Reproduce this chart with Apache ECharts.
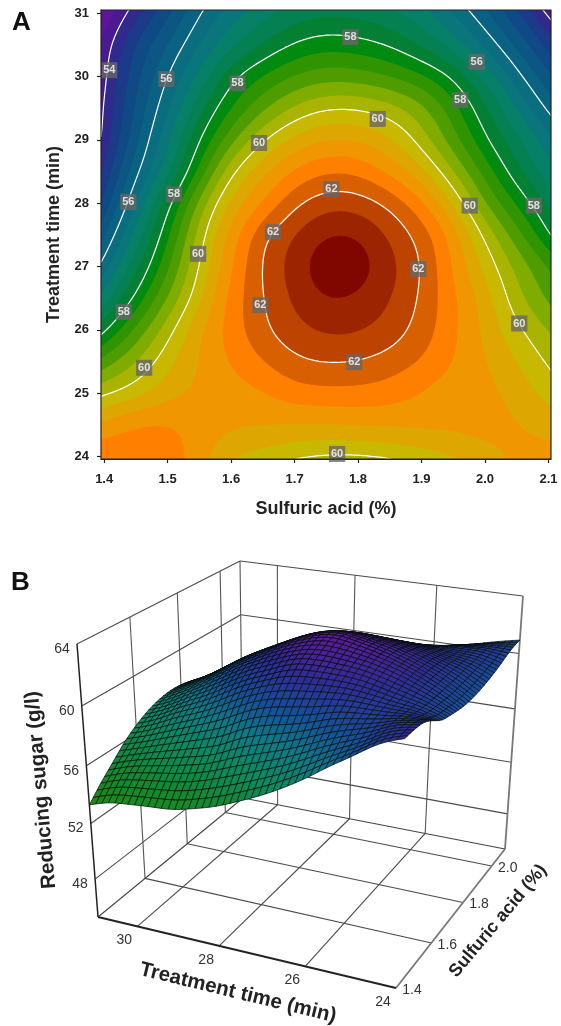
<!DOCTYPE html>
<html><head><meta charset="utf-8">
<style>html,body{margin:0;padding:0;background:#fff}#c{width:561px;height:1026px}</style>
<script src="https://cdn.jsdelivr.net/npm/echarts@6/dist/echarts.min.js"></script>
</head><body><div id="c"></div>
<script>
// ---- data ----
const acidValues = [1.40,1.45,1.50,1.55,1.60,1.65,1.70,1.75,1.80,1.85,1.90,1.95,2.00,2.05,2.10];
const timeValues = [31,30.5,30,29.5,29,28.5,28,27.5,27,26.5,26,25.5,25,24.5,24];
const sugarT310 = [53.3,54.3,55.1,56.0,56.6,57.1,57.4,57.55,57.5,57.3,57.0,56.4,55.7,54.9,53.9];
const sugarT305 = [53.8,54.9,55.6,56.4,57.1,57.6,58.05,58.25,58.15,57.95,57.5,57.0,56.3,55.5,54.7];
const sugarT300 = [53.9,55.1,56.0,56.9,57.95,58.45,58.85,59.05,59.0,58.8,58.5,58.0,57.1,56.15,55.3];
const sugarT295 = [54.05,55.3,56.3,57.5,58.4,59.1,59.7,60.0,60.0,59.8,59.4,58.6,57.7,56.8,55.9];
const sugarT290 = [54.1,55.5,56.7,58.0,59.05,60.0,60.55,60.85,60.8,60.5,59.8,58.95,58.05,57.3,56.6];
const sugarT285 = [54.5,55.9,57.0,58.5,60.0,60.75,61.3,61.6,61.55,61.1,60.55,59.6,58.65,57.7,56.95];
const sugarT280 = [54.9,56.4,57.85,59.4,60.6,61.2,61.95,62.3,62.25,61.95,61.35,60.4,59.15,58.35,57.55];
const sugarT275 = [55.55,56.95,58.3,59.85,61.0,62.0,62.45,62.85,62.85,62.35,61.9,61.1,59.9,59.0,58.0];
const sugarT270 = [56.2,57.5,58.7,60.05,61.2,62.1,62.6,63.2,63.1,62.55,62.05,61.15,60.3,59.5,58.85];
const sugarT265 = [57.0,58.1,59.2,60.3,61.4,62.0,62.5,62.85,62.75,62.45,61.95,61.3,60.65,59.7,59.1];
const sugarT260 = [57.9,58.9,59.85,60.8,61.4,61.95,62.3,62.5,62.48,62.25,61.85,61.3,60.7,60.1,59.6];
const sugarT255 = [59.0,59.6,60.3,60.85,61.25,61.6,61.95,62.05,62.0,61.85,61.6,61.2,60.85,60.4,59.95];
const sugarT250 = [59.9,60.2,60.65,60.9,61.0,61.15,61.45,61.5,61.5,61.4,61.15,60.95,60.95,60.65,60.25];
const sugarT245 = [61.0,61.3,61.3,61.05,60.9,60.85,60.8,60.8,60.85,60.9,60.95,60.95,61.0,60.85,60.65];
const sugarT240 = [61.5,61.5,61.45,61.0,60.4,60.25,60.05,59.95,59.95,60.05,60.2,60.4,60.65,60.9,60.95];
const sugarRows = [sugarT310,sugarT305,sugarT300,sugarT295,sugarT290,sugarT285,sugarT280,sugarT275,sugarT270,sugarT265,sugarT260,sugarT255,sugarT250,sugarT245,sugarT240];

const bandLevels = [0,53.2,53.6,54,54.4,54.8,55.2,55.6,56,56.4,56.8,57.2,57.6,58,58.4,58.8,59.2,59.6,60,60.4,60.8,61.2,61.6,62,62.4,62.8];
const bandColors = ['#74139a','#5f1596','#4a1a92','#2f2a8c','#1c3a8a','#0f4a86','#0c5684','#0a6282','#0a6e80','#0a767c','#078068','#058052','#048034','#008a10','#2f9400','#4f9c00','#80ac00','#a8b400','#c8b800','#dea600','#f09600','#ff8000','#d86000','#bc4400','#9c2400','#800600'];
const contourLevels = [54,56,58,60,62];
const contourLabelX = [1.408,1.498,1.610,1.644,1.438,1.510,1.548,1.666,1.788,1.987,1.961,1.831,1.758,1.976,2.077,1.431,1.463,1.646,1.895,1.794,2.054,1.767];
const contourLabelY = [30.10,29.96,29.89,28.95,28.02,28.14,27.20,27.54,30.62,30.23,29.63,29.33,28.22,27.96,27.96,26.28,25.40,26.39,26.96,25.49,26.10,24.04];
const contourLabelV = [54,56,58,60,56,58,60,62,58,56,58,60,62,60,58,58,60,62,62,62,60,60];
const acidTicksA = [1.4,1.5,1.6,1.7,1.8,1.9,2.0,2.1];
const timeTicksA = [24,25,26,27,28,29,30,31];
const timeTicksB = [30,28,26,24];
const acidTicksB = [1.4,1.6,1.8,2.0];
const sugarTicksB = [48,52,56,60,64];
const surfaceStopZ = [53,55,57,58.5,60,61.5,63];
const surfaceStopC = ['#1f8a0a','#128a30','#0c8a62','#0e7a88','#14509a','#2f2c98','#5a1c96'];

// ---- helpers ----
const FONT = '"Liberation Sans", Arial, sans-serif';
function bs(a,b,c,d,t){const t2=t*t,t3=t2*t;return ((1-3*t+3*t2-t3)*a+(4-6*t2+3*t3)*b+(1+3*t+3*t2-3*t3)*c+t3*d)/6;}
function sugarAt(acid,time){
  const nx=acidValues.length, ny=timeValues.length;
  const fx=(acid-acidValues[0])/(acidValues[1]-acidValues[0]);
  const fy=(timeValues[0]-time)/(timeValues[0]-timeValues[1]);
  const ix=Math.max(0,Math.min(nx-2,Math.floor(fx))), iy=Math.max(0,Math.min(ny-2,Math.floor(fy)));
  const tx=fx-ix, ty=fy-iy;
  const g=(r,c)=>{
    const rr=Math.max(0,Math.min(ny-1,r)), cc=Math.max(0,Math.min(nx-1,c));
    let v=sugarRows[rr][cc];
    if(c<0) v+=sugarRows[rr][0]-sugarRows[rr][1];
    if(c>nx-1) v+=sugarRows[rr][nx-1]-sugarRows[rr][nx-2];
    if(r<0) v+=sugarRows[0][cc]-sugarRows[1][cc];
    if(r>ny-1) v+=sugarRows[ny-1][cc]-sugarRows[ny-2][cc];
    return v;};
  const row=r=>bs(g(r,ix-1),g(r,ix),g(r,ix+1),g(r,ix+2),tx);
  return bs(row(iy-1),row(iy),row(iy+1),row(iy+2),ty);
}
const XMIN=1.395,XMAX=2.104,YMIN=23.96,YMAX=31.05,NF=225;
const fineField=[];
for(let j=0;j<=NF;j++){const r=[];const t=YMIN+(YMAX-YMIN)*j/NF;
  for(let i=0;i<=NF;i++){r.push(sugarAt(XMIN+(XMAX-XMIN)*i/NF,t));}
  fineField.push(r);}
function pixelAxes(api){
  const px=[],py=[];
  for(let i=0;i<=NF;i++){px.push(api.coord([XMIN+(XMAX-XMIN)*i/NF,YMIN])[0]);py.push(api.coord([XMIN,YMIN+(YMAX-YMIN)*i/NF])[1]);}
  return [px,py];
}
function bandPath(level,px,py){
  const out=[];
  for(let j=0;j<NF;j++){
    let run=-1;
    const flush=(i)=>{if(run>=0){out.push('M'+px[run].toFixed(2)+' '+py[j].toFixed(2)+'L'+px[i].toFixed(2)+' '+py[j].toFixed(2)+'L'+px[i].toFixed(2)+' '+py[j+1].toFixed(2)+'L'+px[run].toFixed(2)+' '+py[j+1].toFixed(2)+'Z');run=-1;}};
    for(let i=0;i<NF;i++){
      const v=[fineField[j][i],fineField[j][i+1],fineField[j+1][i+1],fineField[j+1][i]];
      const c=[[px[i],py[j]],[px[i+1],py[j]],[px[i+1],py[j+1]],[px[i],py[j+1]]];
      const all=v[0]>=level&&v[1]>=level&&v[2]>=level&&v[3]>=level;
      if(all){if(run<0)run=i;continue;}
      flush(i);
      const poly=[];
      for(let k=0;k<4;k++){const n=(k+1)%4;
        if(v[k]>=level)poly.push(c[k]);
        if((v[k]>=level)!==(v[n]>=level)){const f=(level-v[k])/(v[n]-v[k]);poly.push([c[k][0]+(c[n][0]-c[k][0])*f,c[k][1]+(c[n][1]-c[k][1])*f]);}
      }
      if(poly.length>2)out.push('M'+poly.map(p=>p[0].toFixed(2)+' '+p[1].toFixed(2)).join('L')+'Z');
    }
    flush(NF);
  }
  return out.join('');
}
function contourPath(level,px,py){
  const out=[];
  for(let j=0;j<NF;j++)for(let i=0;i<NF;i++){
    const v=[fineField[j][i],fineField[j][i+1],fineField[j+1][i+1],fineField[j+1][i]];
    const c=[[px[i],py[j]],[px[i+1],py[j]],[px[i+1],py[j+1]],[px[i],py[j+1]]];
    const pts=[];
    for(let k=0;k<4;k++){const n=(k+1)%4;
      if((v[k]>=level)!==(v[n]>=level)){const f=(level-v[k])/(v[n]-v[k]);pts.push([c[k][0]+(c[n][0]-c[k][0])*f,c[k][1]+(c[n][1]-c[k][1])*f]);}}
    if(pts.length>=2)out.push('M'+pts[0][0].toFixed(2)+' '+pts[0][1].toFixed(2)+'L'+pts[1][0].toFixed(2)+' '+pts[1][1].toFixed(2));
  }
  return out.join('');
}
// panel B: box projection
const BOX={A:[98,917],B:[396,988],C:[505,849],D:[243,798],At:[77,644],Bt:[406,697],Ct:[523,596],Dt:[240,561]};
const T_MAX=31,T_MIN=24,S_MIN=1.4,S_MAX=2.1,Z_MIN=45.2,Z_MAX=64;
function project(t,s,z){
  let u=(T_MAX-t)/(T_MAX-T_MIN); u=u/(1+0.095*(1-u));
  let v=(s-S_MIN)/(S_MAX-S_MIN); v=v*1.2/(1+0.2*v);
  let w=(z-Z_MIN)/(Z_MAX-Z_MIN); w=w*0.92/(1-0.08*w);
  const q=(a,b,c,d,e)=>{const f=a[e]*(1-u)*(1-v)+b[e]*u*(1-v)+c[e]*u*v+d[e]*(1-u)*v;return f;};
  const x0=q(BOX.A,BOX.B,BOX.C,BOX.D,0),y0=q(BOX.A,BOX.B,BOX.C,BOX.D,1);
  const x1=q(BOX.At,BOX.Bt,BOX.Ct,BOX.Dt,0),y1=q(BOX.At,BOX.Bt,BOX.Ct,BOX.Dt,1);
  return [x0+(x1-x0)*w,y0+(y1-y0)*w];
}
function hex(c){return [parseInt(c.slice(1,3),16),parseInt(c.slice(3,5),16),parseInt(c.slice(5,7),16)];}
function surfaceColor(z){
  const n=surfaceStopZ.length;
  if(z<=surfaceStopZ[0])return surfaceStopC[0];
  if(z>=surfaceStopZ[n-1])return surfaceStopC[n-1];
  let k=0;while(z>surfaceStopZ[k+1])k++;
  const f=(z-surfaceStopZ[k])/(surfaceStopZ[k+1]-surfaceStopZ[k]);
  const a=hex(surfaceStopC[k]),b=hex(surfaceStopC[k+1]);
  return 'rgb('+[0,1,2].map(i=>Math.round(a[i]+(b[i]-a[i])*f)).join(',')+')';
}
const MESH=44;
const meshCells=[];
for(let i=0;i<MESH;i++)for(let j=MESH-1;j>=0;j--)meshCells.push([i,j]);
// box line list: [t0,s0,z0,t1,s1,z1,width,color]
const boxLines=[];
timeTicksB.slice(0,3).forEach(t=>{
  boxLines.push([t,S_MIN,Z_MIN,t,S_MAX,Z_MIN,1.1,'#4a4a4a']);
  boxLines.push([t,S_MAX,Z_MIN,t,S_MAX,Z_MAX,1.1,'#555']);
});
acidTicksB.slice(1).forEach(s=>{
  boxLines.push([T_MAX,s,Z_MIN,T_MIN,s,Z_MIN,1.1,'#4a4a4a']);
  boxLines.push([T_MAX,s,Z_MIN,T_MAX,s,Z_MAX,1.1,'#555']);
});
sugarTicksB.forEach(z=>{
  boxLines.push([T_MAX,S_MIN,z,T_MAX,S_MAX,z,1.1,'#4a4a4a']);
  boxLines.push([T_MAX,S_MAX,z,T_MIN,S_MAX,z,1.1,'#4a4a4a']);
});
boxLines.push([T_MAX,S_MAX,Z_MIN,T_MAX,S_MAX,Z_MAX,1.1,'#555']);
boxLines.push([T_MIN,S_MAX,Z_MIN,T_MIN,S_MAX,Z_MAX,1.8,'#777']);
boxLines.push([T_MAX,S_MAX,Z_MIN,T_MAX,S_MIN,Z_MIN,1.1,'#444']);
boxLines.push([T_MAX,S_MAX,Z_MIN,T_MIN,S_MAX,Z_MIN,1.1,'#444']);
boxLines.push([T_MIN,S_MIN,Z_MIN,T_MIN,S_MAX,Z_MIN,1.8,'#777']);
boxLines.push([T_MAX,S_MIN,Z_MIN,T_MIN,S_MIN,Z_MIN,1.8,'#222']);
boxLines.push([T_MAX,S_MIN,Z_MIN,T_MAX,S_MIN,Z_MAX,1.5,'#222']);

const tickTexts=[];
timeTicksB.forEach(t=>tickTexts.push([String(t),...project(t,S_MIN,Z_MIN).map((p,i)=>p+[-13,14][i])]));
acidTicksB.forEach(s=>tickTexts.push([s.toFixed(1),...project(T_MIN,s,Z_MIN).map((p,i)=>p+[16,2][i])]));
sugarTicksB.forEach(z=>tickTexts.push([String(z),...project(T_MAX,S_MIN,z).map((p,i)=>p+[-15,5][i])]));

const chart=echarts.init(document.getElementById('c'),null,{renderer:'canvas'});
chart.setOption({
  animation:false,
  backgroundColor:'#fff',
  grid:[
    {left:101,top:10,width:450,height:449,containLabel:false},
    {left:0,top:0,width:561,height:1026}
  ],
  xAxis:[
    {gridIndex:0,type:'value',min:XMIN,max:XMAX,splitLine:{show:false},
     name:'Sulfuric acid (%)',nameLocation:'middle',nameGap:41,
     nameTextStyle:{fontFamily:FONT,fontWeight:'bold',fontSize:18,color:'#222'},
     axisLine:{lineStyle:{color:'#222',width:1}},
     axisTick:{customValues:acidTicksA,length:4,lineStyle:{color:'#222',width:1.2}},
     axisLabel:{customValues:acidTicksA,formatter:v=>v.toFixed(1),fontFamily:FONT,fontWeight:'bold',fontSize:13,color:'#222',margin:14}},
    {gridIndex:1,type:'value',min:0,max:561,show:false}
  ],
  yAxis:[
    {gridIndex:0,type:'value',min:YMIN,max:YMAX,splitLine:{show:false},
     name:'Treatment time (min)',nameLocation:'middle',nameGap:38,
     nameTextStyle:{fontFamily:FONT,fontWeight:'bold',fontSize:18,color:'#222'},
     axisLine:{lineStyle:{color:'#222',width:1}},
     axisTick:{customValues:timeTicksA,length:4,lineStyle:{color:'#222',width:1.2}},
     axisLabel:{customValues:timeTicksA,formatter:v=>String(v),fontFamily:FONT,fontWeight:'bold',fontSize:13,color:'#222',margin:12}},
    {gridIndex:1,type:'value',min:0,max:1026,inverse:true,show:false}
  ],
  series:[
    {type:'custom',name:'Bands',xAxisIndex:0,yAxisIndex:0,clip:true,silent:true,z:2,
     data:bandLevels.map((l,i)=>[l,i]),encode:{x:[],y:[]},
     renderItem:(p,api)=>{
       const [px,py]=pixelAxes(api);const i=api.value(1);
       return {type:'path',shape:{pathData:bandPath(api.value(0),px,py)},style:{fill:bandColors[i],stroke:null}};
     }},
    {type:'custom',name:'Contours',xAxisIndex:0,yAxisIndex:0,clip:true,silent:true,z:3,
     data:contourLevels.map(l=>[l]),encode:{x:[],y:[]},
     renderItem:(p,api)=>{
       const [px,py]=pixelAxes(api);
       return {type:'path',shape:{pathData:contourPath(api.value(0),px,py)},style:{fill:null,stroke:'#fff',lineWidth:1.2,lineCap:'round'}};
     }},
    {type:'scatter',name:'Contour labels',xAxisIndex:0,yAxisIndex:0,silent:true,z:4,symbolSize:1,
     itemStyle:{color:'transparent'},
     data:contourLabelX.map((x,i)=>[x,contourLabelY[i],contourLabelV[i]]),
     label:{show:true,position:'inside',formatter:d=>String(d.value[2]),backgroundColor:'#666',color:'#fff',
       fontFamily:FONT,fontWeight:'bold',fontSize:11,padding:[3,2,2,2]}},
    {type:'custom',name:'Frame',xAxisIndex:0,yAxisIndex:0,silent:true,z:5,clip:false,
     data:[[XMIN,YMIN,XMAX,YMAX]],encode:{x:[0,2],y:[1,3]},
     renderItem:(p,api)=>{
       const a=api.coord([api.value(0),api.value(1)]),b=api.coord([api.value(2),api.value(3)]);
       return {type:'rect',shape:{x:a[0],y:b[1],width:b[0]-a[0],height:a[1]-b[1]},style:{fill:null,stroke:'#222',lineWidth:1.2}};
     }},
    {type:'custom',name:'Box',xAxisIndex:1,yAxisIndex:1,silent:true,z:2,clip:false,
     data:boxLines.map((l,i)=>[i]),encode:{x:[],y:[]},
     renderItem:(p,api)=>{
       const l=boxLines[api.value(0)];
       const a=api.coord(project(l[0],l[1],l[2])),b=api.coord(project(l[3],l[4],l[5]));
       return {type:'line',shape:{x1:a[0],y1:a[1],x2:b[0],y2:b[1]},style:{stroke:l[7],lineWidth:l[6]}};
     }},
    {type:'custom',name:'Surface',xAxisIndex:1,yAxisIndex:1,silent:true,z:3,clip:false,progressive:0,
     data:meshCells,encode:{x:[],y:[]},
     renderItem:(p,api)=>{
       const i=api.value(0),j=api.value(1);
       const t0=T_MAX-(T_MAX-T_MIN)*i/MESH,t1=T_MAX-(T_MAX-T_MIN)*(i+1)/MESH;
       const s0=S_MIN+(S_MAX-S_MIN)*j/MESH,s1=S_MIN+(S_MAX-S_MIN)*(j+1)/MESH;
       const zs=[sugarAt(s0,t0),sugarAt(s0,t1),sugarAt(s1,t1),sugarAt(s1,t0)];
       const pts=[project(t0,s0,zs[0]),project(t1,s0,zs[1]),project(t1,s1,zs[2]),project(t0,s1,zs[3])].map(q=>api.coord(q));
       const z=(zs[0]+zs[1]+zs[2]+zs[3])/4;
       return {type:'polygon',shape:{points:pts},style:{fill:surfaceColor(z),stroke:'#060d0a',lineWidth:0.7}};
     }},
    {type:'custom',name:'Box ticks',xAxisIndex:1,yAxisIndex:1,silent:true,z:4,clip:false,
     data:tickTexts.map((l,i)=>[i]),encode:{x:[],y:[]},
     renderItem:(p,api)=>{
       const l=tickTexts[api.value(0)];const c=api.coord([l[1],l[2]]);
       return {type:'text',x:c[0],y:c[1],style:{text:l[0],textAlign:'center',textVerticalAlign:'middle',fontFamily:FONT,fontSize:14,fill:'#333'}};
     }}
  ],
  graphic:[
    {type:'text',x:12,y:10,style:{text:'A',fontFamily:FONT,fontWeight:'bold',fontSize:26,fill:'#111'}},
    {type:'text',x:11,y:570,style:{text:'B',fontFamily:FONT,fontWeight:'bold',fontSize:26,fill:'#111'}},
    {type:'text',x:41,y:790,rotation:95*Math.PI/180,style:{text:'Reducing sugar (g/l)',textAlign:'center',textVerticalAlign:'middle',fontFamily:FONT,fontWeight:'bold',fontSize:20.5,fill:'#222'}},
    {type:'text',x:238,y:993,rotation:-13.6*Math.PI/180,style:{text:'Treatment time (min)',textAlign:'center',textVerticalAlign:'middle',fontFamily:FONT,fontWeight:'bold',fontSize:20.5,fill:'#222'}},
    {type:'text',x:498,y:921,rotation:50*Math.PI/180,style:{text:'Sulfuric acid (%)',textAlign:'center',textVerticalAlign:'middle',fontFamily:FONT,fontWeight:'bold',fontSize:18,fill:'#222'}}
  ]
});
</script></body></html>
